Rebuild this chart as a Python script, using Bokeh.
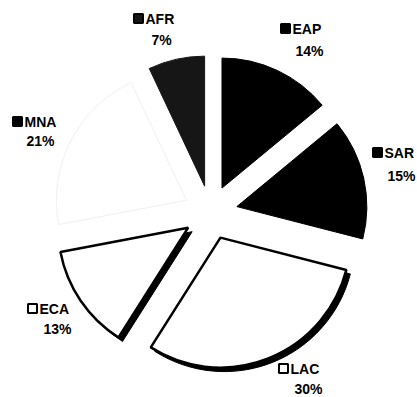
import math
from bokeh.plotting import figure
from bokeh.models import Range1d, ColumnDataSource
from bokeh.core.properties import value
from bokeh.embed import file_html
from bokeh.resources import INLINE

# ---- data (clockwise from 12 o'clock) ----
regions = ["EAP", "SAR", "LAC", "ECA", "MNA", "AFR"]
shares = [14, 15, 30, 13, 21, 7]

# ---- styles / layout ----
W, H = 417, 397
center_px = (210, 212)
radius = 130
explode = 27
fills = ["#000000", "#000000", "#ffffff", "#ffffff", "#ffffff", "#161616"]
outlines = ["#000000", "#000000", "#000000", "#000000", "#f0f0f0", "#161616"]
outline_w = [1, 1, 2.5, 2.5, 1, 1]
has_shadow = [False, False, True, True, False, False]
marker_fill = ["#000000", "#000000", "#ffffff", "#ffffff", "#000000", "#161616"]
marker_pos = [(285, 28), (377, 152), (283, 368), (32, 308), (17, 121), (138, 18)]
pct_pos = [(309, 50), (401, 175), (308, 388), (57, 328), (40, 140), (161, 39)]

total = float(sum(shares))
cx, cy = center_px[0], H - center_px[1]

xs, ys, starts, ends = [], [], [], []
acc = 0.0
for v in shares:
    t1 = acc / total * 360.0
    t2 = (acc + v) / total * 360.0
    acc += v
    tm = math.radians((t1 + t2) / 2)
    xs.append(cx + explode * math.sin(tm))
    ys.append(cy + explode * math.cos(tm))
    starts.append(math.radians(90 - t2))
    ends.append(math.radians(90 - t1))

src = ColumnDataSource(dict(x=xs, y=ys, s=starts, e=ends, fill=fills,
                            line=outlines, lw=outline_w))
sh_idx = [i for i, f in enumerate(has_shadow) if f]
shadow_src = ColumnDataSource(dict(x=[xs[i] + 4 for i in sh_idx],
                                   y=[ys[i] - 4 for i in sh_idx],
                                   s=[starts[i] for i in sh_idx],
                                   e=[ends[i] for i in sh_idx]))

p = figure(width=W, height=H, x_range=Range1d(0, W), y_range=Range1d(0, H),
           output_backend="svg", toolbar_location=None, min_border=0,
           x_axis_type=None, y_axis_type=None)
p.grid.visible = False
p.outline_line_color = None
p.background_fill_color = "white"

p.wedge(x="x", y="y", radius=radius, start_angle="s", end_angle="e",
        source=shadow_src, fill_color="black", line_color="black")
p.wedge(x="x", y="y", radius=radius, start_angle="s", end_angle="e",
        source=src, fill_color="fill", line_color="line", line_width="lw")

lab_src = ColumnDataSource(dict(
    mx=[m[0] for m in marker_pos], my=[H - m[1] for m in marker_pos],
    tx=[m[0] + 7 for m in marker_pos], name=regions, mf=marker_fill,
    px=[q[0] for q in pct_pos], py=[H - q[1] for q in pct_pos],
    pct=[f"{v}%" for v in shares]))

p.scatter(x="mx", y="my", source=lab_src, marker="square", size=9,
          fill_color="mf", line_color="black", line_width=2)
p.text(x="tx", y="my", text="name", source=lab_src,
       text_font=value("Liberation Sans"), text_font_style="bold",
       text_font_size="14px", text_baseline="middle", text_align="left",
       text_color="black")
p.text(x="px", y="py", text="pct", source=lab_src,
       text_font=value("Liberation Sans"), text_font_style="bold",
       text_font_size="14px", text_baseline="middle", text_align="center",
       text_color="black")

open("out.html", "w").write(file_html(p, INLINE))
